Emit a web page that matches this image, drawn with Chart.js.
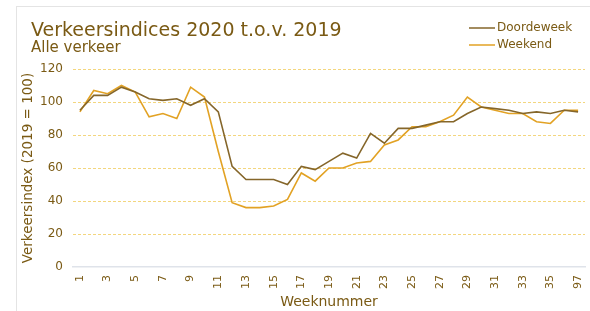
<!DOCTYPE html>
<html>
<head>
<meta charset="utf-8">
<script src="https://cdn.jsdelivr.net/npm/chart.js@4.4.1/dist/chart.umd.min.js"></script>
<style>
    body { margin: 0; background: #fff; }
    #frame { position: absolute; left: 16px; top: 6px; width: 600px; height: 320px; border-left: 1px solid #e4e4e4; border-top: 1px solid #e4e4e4; }
    #box { position: absolute; left: 0; top: 0; width: 590px; height: 311px; }
</style>
</head>
<body>
<div id="frame"></div>
<div id="box"><canvas id="chart"></canvas></div>
<script>
let title = 'Verkeersindices 2020 t.o.v. 2019'
let subtitle = 'Alle verkeer'

// weeknummers (laatste label staat zo in het origineel)
let weeks = ['1', '2', '3', '4', '5', '6', '7', '8', '9', '10', '11', '12', '13', '14', '15', '16', '17', '18',
    '19', '20', '21', '22', '23', '24', '25', '26', '27', '28', '29', '30', '31', '32', '33', '34', '35', '36', '97']

let doordeweek = [95, 104, 104, 109, 106, 102, 101, 102, 98, 102, 94, 61, 53, 53, 53, 50, 61, 59, 64, 69, 66,
    81, 75, 84, 84, 86, 88, 88, 93, 97, 96, 95, 93, 94, 93, 95, 94]
let weekend = [94, 107, 105, 110, 106, 91, 93, 90, 109, 103, 70, 39, 36, 36, 37, 41, 57, 52, 60, 60, 63,
    64, 74, 77, 85, 85, 88, 92, 103, 97, 95, 93, 93, 88, 87, 95, 95]

let yTicks = [0, 20, 40, 60, 80, 100, 120]

let textColor = '#7a5a14'
let font = '"DejaVu Sans", Verdana, sans-serif'

// titel + legenda worden zelf getekend, boven het plotvlak
const header = {
    id: 'header',
    afterDraw(chart) {
        let c = chart.ctx
        c.save()
        c.fillStyle = textColor
        c.textBaseline = 'alphabetic'
        c.save()
        c.translate(31, 36)
        c.scale(0.95, 1)
        c.font = '20px ' + font
        c.fillText(title, 0, 0)
        c.restore()
        c.font = '15px ' + font
        c.fillText(subtitle, 31, 52)

        c.font = '12px ' + font
        c.textBaseline = 'middle'
        chart.data.datasets.forEach((ds, i) => {
            let y = 28 + i * 17
            c.strokeStyle = ds.borderColor
            c.lineWidth = 1.5
            c.beginPath()
            c.moveTo(469, y)
            c.lineTo(495, y)
            c.stroke()
            c.fillText(ds.label, 497, y)
        })
        c.restore()
    }
}

let ctx = document.getElementById('chart').getContext('2d')

let data = {
    labels: weeks,
    datasets: [{
        label: 'Doordeweek',
        data: doordeweek,
        borderColor: '#85662a',
        borderWidth: 1.6,
        pointRadius: 0,
        tension: 0
    }, {
        label: 'Weekend',
        data: weekend,
        borderColor: '#e2a224',
        borderWidth: 1.6,
        pointRadius: 0,
        tension: 0
    }]
}

let options = {
    responsive: true,
    maintainAspectRatio: false,
    animation: false,
    layout: { padding: { top: 69, left: 20, right: 5, bottom: 0 } },
    plugins: {
        legend: { display: false },
        title: { display: false },
        tooltip: { enabled: false }
    },
    scales: {
        x: {
            offset: true,
            grid: { display: false, drawTicks: false },
            border: { display: true, color: '#dfe3ea', width: 1.5 },
            ticks: {
                autoSkip: false,
                minRotation: 90,
                maxRotation: 90,
                padding: 8,
                color: textColor,
                font: { family: font, size: 11 },
                callback: (v, i) => i % 2 === 0 ? weeks[i] : ''
            },
            title: {
                display: true,
                text: 'Weeknummer',
                color: textColor,
                font: { family: font, size: 14 },
                padding: { top: 2, bottom: 0 }
            },
            afterFit: s => {
                s.height = 44
                s.paddingLeft = 0
                s.paddingRight = 0
            }
        },
        y: {
            min: 0,
            max: 120,
            afterBuildTicks: s => { s.ticks = yTicks.map(v => ({ value: v })) },
            grid: {
                color: ctx => ctx.tick.value === 0 ? 'rgba(0,0,0,0)' : '#f3d67e',
                drawTicks: false
            },
            border: { display: false, dash: [3, 2] },
            ticks: {
                padding: 10,
                color: textColor,
                font: { family: font, size: 12 }
            },
            title: {
                display: true,
                text: 'Verkeersindex (2019 = 100)',
                color: textColor,
                font: { family: font, size: 13.5 },
                padding: 0
            },
            afterFit: s => {
                s.width = 53
                s.paddingTop = 0
                s.paddingBottom = 0
            }
        }
    }
}

new Chart(ctx, {
    type: 'line',
    data: data,
    options: options,
    plugins: [header]
})
</script>
</body>
</html>
